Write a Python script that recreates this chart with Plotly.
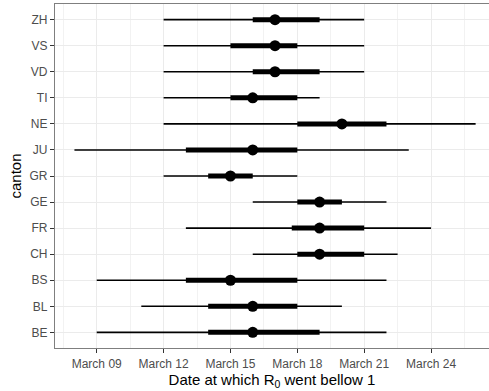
import pandas as pd
import plotly.graph_objects as go

# Day-of-March estimates for the date R0 dropped below 1, per canton
cantons = ["ZH", "VS", "VD", "TI", "NE", "JU", "GR", "GE", "FR", "CH", "BS", "BL", "BE"]
lo95 = [12, 12, 12, 12, 12, 8, 12, 16, 13, 16, 9, 11, 9]
lo50 = [16, 15, 16, 15, 18, 13, 14, 18, 17.75, 18, 13, 14, 14]
median = [17, 17, 17, 16, 20, 16, 15, 19, 19, 19, 15, 16, 16]
hi50 = [19, 18, 19, 18, 22, 18, 16, 20, 21, 21, 18, 18, 19]
hi95 = [21, 21, 21, 19, 26, 23, 18, 22, 24, 22.5, 22, 20, 22]

tick_days = [9, 12, 15, 18, 21, 24]
tick_labels = ["March 09", "March 12", "March 15", "March 18", "March 21", "March 24"]

base = pd.Timestamp("2020-03-01")


def to_date(day):
    return base + pd.to_timedelta(day - 1, unit="D")


def segments(starts, ends):
    xs, ys = [], []
    for c, a, b in zip(cantons, starts, ends):
        xs += [to_date(a), to_date(b), None]
        ys += [c, c, None]
    return xs, ys


fig = go.Figure()

tx, ty = segments(lo95, hi95)
fig.add_trace(go.Scatter(x=tx, y=ty, mode="lines",
                         line=dict(color="black", width=1.6),
                         hoverinfo="skip", showlegend=False))

kx, ky = segments(lo50, hi50)
fig.add_trace(go.Scatter(x=kx, y=ky, mode="lines",
                         line=dict(color="black", width=5),
                         hoverinfo="skip", showlegend=False))

fig.add_trace(go.Scatter(x=[to_date(d) for d in median], y=cantons, mode="markers",
                         marker=dict(color="black", size=11),
                         showlegend=False))

day_ms = 86400000
grid = "#EBEBEB"

fig.update_layout(
    width=489, height=391,
    margin=dict(l=55, r=0, t=4, b=43),
    paper_bgcolor="white", plot_bgcolor="white",
    font=dict(family="Liberation Sans, Arial, sans-serif", size=12, color="#4D4D4D"),
    xaxis=dict(
        type="date",
        range=[to_date(7.128), to_date(26.6)],
        tickvals=[to_date(d) for d in tick_days],
        ticktext=tick_labels,
        ticks="outside", ticklen=4, tickcolor="#333333", tickwidth=1,
        showgrid=True, gridcolor=grid, gridwidth=1.1,
        minor=dict(tick0=to_date(7.5), dtick=1.5 * day_ms, showgrid=True,
                   gridcolor="#F2F2F2", gridwidth=0.6, ticks=""),
        showline=True, linecolor="#7F7F7F", linewidth=1.2, mirror=True,
        zeroline=False,
        title=dict(text="Date at which R<sub>0</sub> went bellow 1",
                   font=dict(size=15, color="black"), standoff=3),
        tickfont=dict(size=12, color="#4D4D4D"),
    ),
    yaxis=dict(
        type="category",
        categoryorder="array",
        categoryarray=cantons[::-1],
        range=[-0.6, len(cantons) - 0.4],
        ticks="outside", ticklen=4, tickcolor="#333333", tickwidth=1,
        showgrid=True, gridcolor=grid, gridwidth=1.1,
        showline=True, linecolor="#7F7F7F", linewidth=1.2,
        zeroline=False,
        title=dict(text="canton", font=dict(size=15, color="black"), standoff=4),
        tickfont=dict(size=12, color="#4D4D4D"),
    ),
)

fig.write_html("out.html")
